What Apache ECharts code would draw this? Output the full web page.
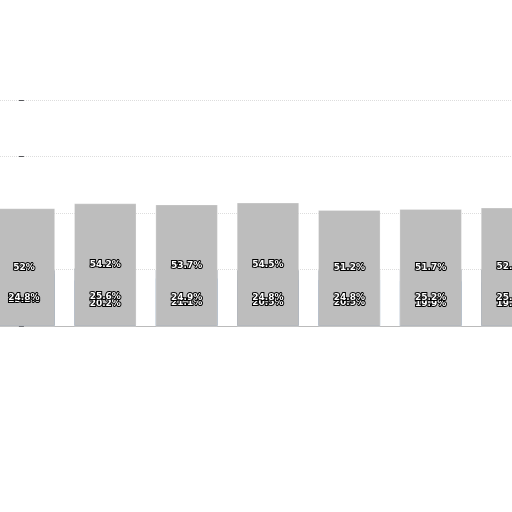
<!DOCTYPE html><html><head><meta charset="utf-8"><script src="https://cdn.jsdelivr.net/npm/echarts@6/dist/echarts.min.js"></script></head><body style="margin:0"><div id="c" style="width:512px;height:512px"></div><script>
const categories=[0,1,2,3,4,5,6];
const blue=[23.2,20.2,21.1,20.5,20.5,19.9,19.4];
const navy=[24.8,25.6,24.9,24.8,24.8,25.2,25.1];
const grey=[52,54.2,53.7,54.5,51.2,51.7,52.3];
const lab={show:true,color:'#fff',fontSize:9,fontWeight:'bold',fontFamily:'DejaVu Sans',textBorderColor:'#000',textBorderWidth:2,formatter:p=>p.value[1]+'%'};
const mk=(d,c)=>({type:'bar',stack:'a',data:d.map((v,i)=>[categories[i],v]),barWidth:62,itemStyle:{color:c,borderColor:'rgba(255,255,255,0.5)',borderWidth:0.5},label:lab});
const ch=echarts.init(document.getElementById('c'));
ch.setOption({animation:false,grid:{left:0,right:0,top:100,height:226,containLabel:false},
xAxis:{type:'value',min:-0.294,max:6,axisLabel:{show:false},axisTick:{show:false},splitLine:{show:false},axisLine:{show:true,lineStyle:{color:'#bbb'}}},
yAxis:{type:'value',min:0,max:100,interval:25,axisLabel:{show:false},axisLine:{show:false},splitLine:{lineStyle:{color:'#ddd',type:'dotted'}}},
series:[mk(blue,'#2a78d6'),mk(navy,'#10253f'),mk(grey,'#bdbdbd')]});
</script></body></html>
